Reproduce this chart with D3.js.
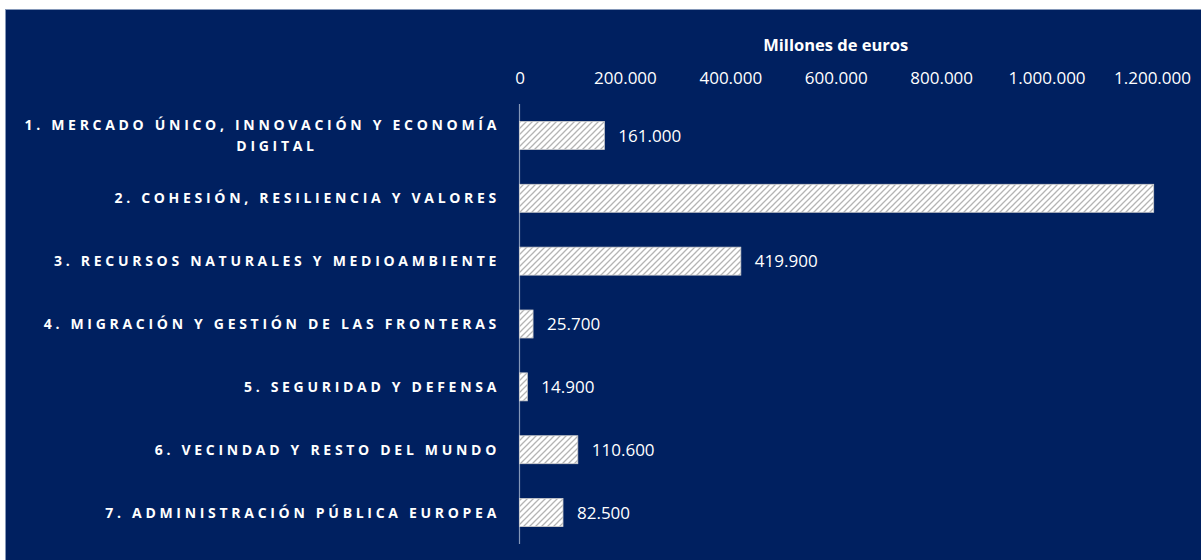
<!DOCTYPE html>
<html>
<head>
<meta charset="utf-8">
<script src="https://cdn.jsdelivr.net/npm/d3@7/dist/d3.min.js"></script>
<style>
  body { margin: 0; background: #ffffff; }
  svg { display: block; }
</style>
</head>
<body>
<svg id="chart" width="1201" height="560"></svg>
<script>
// chart data
const categories = [
    "1. MERCADO ÚNICO, INNOVACIÓN Y ECONOMÍA DIGITAL",
    "2. COHESIÓN, RESILIENCIA Y VALORES",
    "3. RECURSOS NATURALES Y MEDIOAMBIENTE",
    "4. MIGRACIÓN Y GESTIÓN DE LAS FRONTERAS",
    "5. SEGURIDAD Y DEFENSA",
    "6. VECINDAD Y RESTO DEL MUNDO",
    "7. ADMINISTRACIÓN PÚBLICA EUROPEA"
];
const values = [161000, 1203200, 419900, 25700, 14900, 110600, 82500];
const showLabel = [true, false, true, true, true, true, true];
const tickValues = [0, 200000, 400000, 600000, 800000, 1000000, 1200000];
const axisTitle = "Millones de euros";

class BarChart {

    constructor (svgId) {
        this.svg = d3.select(svgId);
        this.margin = {top: 104, right: 49, bottom: 16, left: 519.5};
        this.width = 1201;
        this.height = 560;

        // spanish number format, dots as thousands separator
        let locale = d3.formatLocale({decimal: ",", thousands: ".", grouping: [3], currency: ["", " €"]});
        this.fmt = locale.format(",d");

        this.x = d3.scaleLinear()
            .domain([0, 1200000])
            .range([this.margin.left, this.width - this.margin.right]);

        this.y = d3.scaleBand()
            .domain(categories)
            .range([this.margin.top, this.height - this.margin.bottom])
            .paddingInner(0.555)
            .paddingOuter(0.2775);

        this.drawBackground();
        this.drawAxis();
        this.drawBars();
        this.drawLabels();
    };

    drawBackground () {
        this.svg.append("rect")
            .attr("x", 5.5)
            .attr("y", 9.5)
            .attr("width", 1201)
            .attr("height", 560)
            .attr("fill", "#002060")
            .attr("stroke", "#8497b8")
            .attr("stroke-width", 1);

        let defs = this.svg.append("defs");
        let pat = defs.append("pattern")
            .attr("id", "hatch")
            .attr("patternUnits", "userSpaceOnUse")
            .attr("width", 6)
            .attr("height", 6);
        pat.append("rect").attr("width", 6).attr("height", 6).attr("fill", "#ffffff");
        pat.append("path")
            .attr("d", "M-1,1 l2,-2 M0,6 l6,-6 M5,7 l2,-2")
            .attr("stroke", "#b4b4b4")
            .attr("stroke-width", 1.3);
    };

    drawAxis () {
        let axis = d3.axisTop(this.x)
            .tickValues(tickValues)
            .tickFormat(d => d === 0 ? "0" : this.fmt(d))
            .tickSize(0)
            .tickPadding(0);

        let g = this.svg.append("g")
            .attr("transform", "translate(0,84)")
            .call(axis);
        g.select(".domain").remove();
        g.selectAll("text")
            .attr("fill", "#ffffff")
            .attr("font-family", "'Open Sans', sans-serif")
            .attr("font-size", 17)
            .attr("dy", 0);

        this.svg.append("text")
            .attr("x", (this.x.range()[0] + this.x.range()[1]) / 2)
            .attr("y", 51)
            .attr("text-anchor", "middle")
            .attr("fill", "#ffffff")
            .attr("font-family", "'Open Sans', sans-serif")
            .attr("font-weight", "bold")
            .attr("font-size", 16.5)
            .text(axisTitle);

        // vertical category axis line
        this.svg.append("line")
            .attr("x1", this.x(0))
            .attr("x2", this.x(0))
            .attr("y1", this.y.range()[0])
            .attr("y2", this.y.range()[1])
            .attr("stroke", "#8497b8")
            .attr("stroke-width", 1.2);
    };

    drawBars () {
        let data = categories.map((c, i) => ({cat: c, value: values[i], label: showLabel[i]}));
        let self = this;

        let bars = this.svg.append("g").selectAll("rect").data(data);
        bars.enter().append("rect")
            .attr("x", this.x(0))
            .attr("y", d => this.y(d.cat))
            .attr("width", d => this.x(d.value) - this.x(0))
            .attr("height", this.y.bandwidth())
            .attr("fill", "url(#hatch)")
            .attr("stroke", "#d0d0d0")
            .attr("stroke-width", 0.8);

        this.svg.append("g").selectAll("text")
            .data(data.filter(d => d.label))
            .enter().append("text")
            .attr("x", d => self.x(d.value) + 14)
            .attr("y", d => self.y(d.cat) + self.y.bandwidth() / 2)
            .attr("dy", "0.36em")
            .attr("fill", "#ffffff")
            .attr("font-family", "'Open Sans', sans-serif")
            .attr("font-size", 17)
            .text(d => self.fmt(d.value));
    };

    drawLabels () {
        let right = 500, left = 54;
        let maxW = right - left;
        let self = this;
        let fontSize = 14, spacing = "3.7px";

        categories.forEach(function(c){
            let g = self.svg.append("g");
            let words = c.split(" ");
            let lines = [];
            let line = [];
            let probe = g.append("text")
                .attr("font-family", "'Open Sans', sans-serif")
                .attr("font-weight", "bold")
                .attr("font-size", fontSize)
                .attr("letter-spacing", spacing);
            words.forEach(function(w){
                line.push(w);
                probe.text(line.join(" "));
                if (probe.node().getComputedTextLength() > maxW + 45 && line.length > 1) {
                    line.pop();
                    lines.push(line.join(" "));
                    line = [w];
                }
            });
            lines.push(line.join(" "));
            probe.remove();

            let cy = self.y(c) + self.y.bandwidth() / 2;
            let lh = 21;
            lines.forEach(function(l, i){
                let t = g.append("text")
                    .attr("y", cy + (i - (lines.length - 1) / 2) * lh)
                    .attr("dy", "0.36em")
                    .attr("fill", "#ffffff")
                    .attr("font-family", "'Open Sans', sans-serif")
                    .attr("font-weight", "bold")
                    .attr("font-size", fontSize)
                    .attr("letter-spacing", spacing)
                    .text(l);
                let w = t.node().getComputedTextLength();
                if (lines.length > 1 && w < maxW) {
                    t.attr("x", (left + right) / 2).attr("text-anchor", "middle");
                } else {
                    t.attr("x", right).attr("text-anchor", "end");
                }
            });
        });
    };
};

new BarChart("#chart");
</script>
</body>
</html>
